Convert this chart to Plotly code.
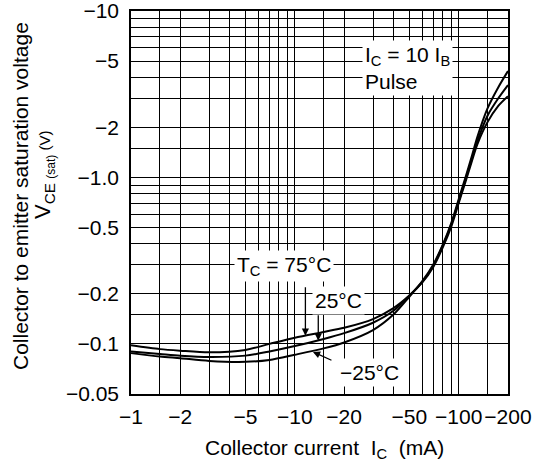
import numpy as np
import plotly.graph_objects as go

# Collector current (mA)
ic_ma = [-1, -1.5, -2, -3, -5, -7, -10, -15, -20, -30, -40, -50, -60, -70, -80, -90,
         -100, -110, -120, -130, -150, -175, -200]
# VCE(sat) (V) for each case temperature
vce_75 = [-0.098, -0.093, -0.091, -0.089, -0.092, -0.100, -0.109, -0.118, -0.125, -0.141,
          -0.164, -0.195, -0.234, -0.29, -0.38, -0.505, -0.70, -0.94, -1.24, -1.58, -2.15, -2.7, -3.08]
vce_25 = [-0.090, -0.087, -0.085, -0.0835, -0.085, -0.090, -0.097, -0.107, -0.116, -0.134,
          -0.158, -0.195, -0.236, -0.295, -0.39, -0.52, -0.72, -0.97, -1.28, -1.65, -2.35, -3.0, -3.59]
vce_m25 = [-0.088, -0.084, -0.082, -0.079, -0.078, -0.080, -0.086, -0.094, -0.102, -0.121,
           -0.150, -0.192, -0.238, -0.30, -0.395, -0.53, -0.74, -1.0, -1.33, -1.75, -2.6, -3.5, -4.36]

# grid / tick definitions
x_grid = [1, 1.5, 2, 3, 4, 5, 6, 7, 8, 9, 10, 15, 20, 30, 40, 50, 60, 70, 80, 90, 100, 150, 200]
x_labels = {1: "−1", 2: "−2", 5: "−5", 10: "−10", 20: "−20", 50: "−50", 100: "−100", 200: "−200"}
y_grid = [0.05, 0.1, 0.15, 0.2, 0.3, 0.4, 0.5, 0.6, 0.7, 0.8, 0.9, 1.0, 1.5, 2, 3, 4, 5, 6, 7, 8, 9, 10]
y_labels = {0.05: "−0.05", 0.1: "−0.1", 0.2: "−0.2", 0.5: "−0.5", 1.0: "−1.0", 2: "−2", 5: "−5", 10: "−10"}

FONT = "Liberation Sans, Arial, Helvetica, sans-serif"
FS = 21
EPS = 1e-4

fig = go.Figure()
x_abs = np.abs(ic_ma)
for ys in (vce_75, vce_25, vce_m25):
    fig.add_trace(go.Scatter(x=x_abs, y=np.abs(ys), mode="lines",
                             line=dict(color="black", width=2, shape="spline", smoothing=0.8),
                             showlegend=False, hoverinfo="skip"))

fig.update_xaxes(type="log", range=[np.log10(1) - EPS, np.log10(200) + EPS],
                 tickvals=x_grid, ticktext=[x_labels.get(v, "") for v in x_grid],
                 tickangle=0, automargin=False, ticklabeloverflow="allow",
                 showgrid=True, gridcolor="black", gridwidth=1,
                 showline=True, linecolor="black", linewidth=1.5, mirror=True,
                 ticks="", zeroline=False, tickfont=dict(size=FS, color="black", family=FONT),
                 ticklabelstandoff=3)
fig.update_yaxes(type="log", range=[np.log10(0.05) - EPS, np.log10(10) + EPS],
                 tickvals=y_grid, ticktext=[y_labels.get(v, "") for v in y_grid],
                 automargin=False, ticklabeloverflow="allow",
                 showgrid=True, gridcolor="black", gridwidth=1,
                 showline=True, linecolor="black", linewidth=1.5, mirror=True,
                 ticks="", zeroline=False, tickfont=dict(size=FS, color="black", family=FONT),
                 ticklabelstandoff=6)

def px2paper(px, py):
    return (px - 131) / 377.0, (394 - py) / 383.0

ann = []
# condition box
x0, y0 = px2paper(362, 68)
ann.append(dict(x=x0, y=y0, xref="paper", yref="paper", xanchor="left", yanchor="middle",
                text="I<sub>C</sub> = 10 I<sub>B</sub><br>Pulse", align="left", showarrow=False,
                bgcolor="white", borderpad=2, font=dict(size=FS, color="black", family=FONT)))
# temperature labels
for txt, (px, py) in [("T<sub>C</sub> = 75°C", (284, 266)), ("25°C", (338, 300)), ("−25°C", (369, 372))]:
    xx, yy = px2paper(px, py)
    ann.append(dict(x=xx, y=yy, xref="paper", yref="paper", xanchor="center", yanchor="middle",
                    text=txt, showarrow=False, bgcolor="white", borderpad=2,
                    font=dict(size=FS, color="black", family=FONT)))
# arrows to curves
for (ia, va, ax, ay) in [(11.6, 0.112, 0, -50), (13.9, 0.1045, 0, -27), (12.9, 0.0895, 20, 9)]:
    ann.append(dict(x=np.log10(ia), y=np.log10(va), xref="x", yref="y", text="",
                    showarrow=True, arrowhead=2, arrowsize=1.1, arrowwidth=1.3,
                    arrowcolor="black", ax=ax, ay=ay, standoff=0))
# axis titles
xx, yy = px2paper(324, 449)
ann.append(dict(x=xx, y=yy, xref="paper", yref="paper", xanchor="center", yanchor="middle",
                text="Collector current\u00a0\u00a0I<sub>C</sub>\u00a0\u00a0(mA)", showarrow=False,
                font=dict(size=FS, color="black", family=FONT)))
xx, yy = px2paper(20, 196)
ann.append(dict(x=xx, y=yy, xref="paper", yref="paper", xanchor="center", yanchor="middle",
                text="Collector to emitter saturation voltage", textangle=-90, showarrow=False,
                font=dict(size=FS, color="black", family=FONT)))
xx, yy = px2paper(44, 175)
ann.append(dict(x=xx, y=yy, xref="paper", yref="paper", xanchor="center", yanchor="middle",
                text="V<sub>CE <span style='font-size:12px'>(sat)</span></sub>"
                     "<span style='font-size:15px'> (V)</span>",
                textangle=-90, showarrow=False,
                font=dict(size=22, color="black", family=FONT)))

fig.update_layout(width=533, height=468, margin=dict(l=131, r=25, t=11, b=74, autoexpand=False),
                  plot_bgcolor="white", paper_bgcolor="white", annotations=ann,
                  font=dict(family=FONT, color="black"))
fig.write_html("out.html")
